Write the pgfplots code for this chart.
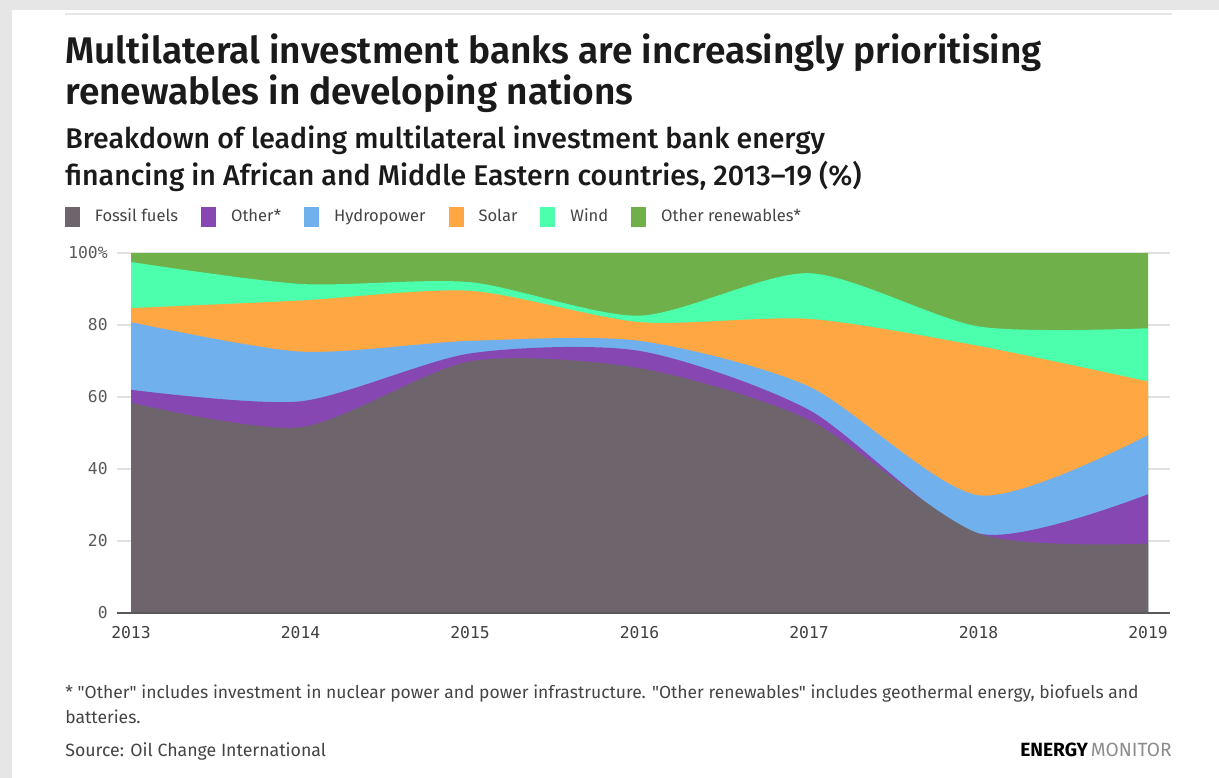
\documentclass[border=0pt]{standalone}
\usepackage{fontspec}
\usepackage{pgfplots}
\usepackage{pgfplotstable}
\pgfplotsset{compat=1.18}
\setmainfont{Fira Sans}
\newfontfamily\titlefont{Fira Sans SemiBold}
\newfontfamily\subfont{Fira Sans Medium}
\newfontfamily\notefont{Fira Sans}[Ligatures=TeXOff]
\newfontfamily\monofont{DejaVu Sans Mono}

\definecolor{fossil}{RGB}{110,101,108}
\definecolor{otherc}{RGB}{134,71,179}
\definecolor{hydro}{RGB}{112,177,237}
\definecolor{solar}{RGB}{255,167,66}
\definecolor{wind}{RGB}{75,255,172}
\definecolor{otherren}{RGB}{112,176,74}
\definecolor{framegray}{RGB}{230,230,230}
\definecolor{txt}{RGB}{26,26,26}
\definecolor{txtgray}{RGB}{68,68,68}

% cumulative shares (top edge of each band), % of total
\pgfplotstableread{
year fossil other hydro solar wind total
2013 58.4 62.0 80.8 84.7 97.5 100
2014 51.6 58.8 72.6 86.8 91.4 100
2015 69.9 72.1 75.6 89.5 91.9 100
2016 68.0 72.8 75.6 80.8 82.6 100
2017 53.6 56.4 62.9 81.7 94.4 100
2018 22.1 22.1 32.7 74.2 79.6 100
2019 19.3 33.0 49.4 64.3 79.1 100
}\cumtable

\begin{document}
\begin{tikzpicture}
% canvas and frame
\fill[white] (0,0) rectangle (609.5bp,-389bp);
\fill[framegray] (0,0) rectangle (609.5bp,-5bp);
\fill[framegray] (0,0) rectangle (6bp,-389bp);
\draw[framegray, line width=1bp] (32.5bp,-7bp) -- (586bp,-7bp);

% titles
\node[anchor=base west, inner sep=0pt, text=txt, font=\titlefont\fontsize{18.6}{20}\selectfont] at (32.5bp,-31.7bp) {Multilateral investment banks are increasingly prioritising};
\node[anchor=base west, inner sep=0pt, text=txt, font=\titlefont\fontsize{18.6}{20}\selectfont] at (32.5bp,-52bp) {renewables in developing nations};
\node[anchor=base west, inner sep=0pt, text=txt, font=\subfont\fontsize{14.3}{15}\selectfont] at (32.5bp,-74.2bp) {Breakdown of leading multilateral investment bank energy};
\node[anchor=base west, inner sep=0pt, text=txt, font=\subfont\fontsize{14.3}{15}\selectfont] at (32.5bp,-92.8bp) {financing in African and Middle Eastern countries, 2013–19 (\%)};

\begin{axis}[
  at={(58.5bp,-306.5bp)}, anchor=south west,
  scale only axis, width=526.5bp, height=180bp,
  xmin=2012.9174, xmax=2019.1298, ymin=0, ymax=100,
  axis x line*=bottom, axis y line*=left,
  x axis line style={draw=none}, y axis line style={draw=none},
  major tick length=0pt,
  xtick={2013,2014,2015,2016,2017,2018,2019},
  xticklabels={2013,2014,2015,2016,2017,2018,2019},
  ytick={0,20,40,60,80,100},
  yticklabels={0,20,40,60,80,100\%},
  xticklabel style={font=\monofont\fontsize{8.2}{10}\selectfont, text=black!75, anchor=north, inner sep=0pt, yshift=-6.3bp},
  yticklabel style={font=\monofont\fontsize{8.2}{10}\selectfont, text=black!65, anchor=east, inner sep=0pt, xshift=-4.5bp},
  ymajorgrids, grid style={draw=black!12, line width=0.6bp},
  legend columns=6, reverse legend,
  legend image code/.code={\fill[#1] (0bp,-4.9bp) rectangle (7.5bp,4.9bp);},
  legend style={at={(axis description cs:-0.0494,1.1)}, anchor=west, draw=none, fill=none,
     inner sep=0pt, outer sep=0pt,
     font=\fontsize{8.3}{10}\selectfont, text=txtgray,
     /tikz/every odd column/.append style={column sep=5.5bp},
     /tikz/every even column/.append style={column sep=9.5bp}},
  legend cell align=left,
  clip=false,
]
\addplot[fill=otherren, draw=none, smooth, tension=0.45] table[x=year, y=total] {\cumtable} \closedcycle;
\addlegendentry{Other renewables*}
\addplot[fill=wind, draw=none, smooth, tension=0.45] table[x=year, y=wind] {\cumtable} \closedcycle;
\addlegendentry{Wind}
\addplot[fill=solar, draw=none, smooth, tension=0.45] table[x=year, y=solar] {\cumtable} \closedcycle;
\addlegendentry{Solar}
\addplot[fill=hydro, draw=none, smooth, tension=0.45] table[x=year, y=hydro] {\cumtable} \closedcycle;
\addlegendentry{Hydropower}
\addplot[fill=otherc, draw=none, smooth, tension=0.45] table[x=year, y=other] {\cumtable} \closedcycle;
\addlegendentry{Other*}
\addplot[fill=fossil, draw=none, smooth, tension=0.45] table[x=year, y=fossil] {\cumtable} \closedcycle;
\addlegendentry{Fossil fuels}
\draw[black!65, line width=1bp] (axis cs:2012.9174,0) -- (axis cs:2019.1298,0);
\end{axis}

% footnotes
\node[anchor=base west, inner sep=0pt, text=txtgray, font=\notefont\fontsize{8.78}{10}\selectfont] at (32.5bp,-349bp) {* "Other" includes investment in nuclear power and power infrastructure. "Other renewables" includes geothermal energy, biofuels and};
\node[anchor=base west, inner sep=0pt, text=txtgray, font=\notefont\fontsize{8.78}{10}\selectfont] at (32.5bp,-361.5bp) {batteries.};
\node[anchor=base west, inner sep=0pt, text=txtgray, font=\notefont\fontsize{8.9}{10}\selectfont] at (32.5bp,-378bp) {Source: Oil Change International};
\node[anchor=base east, inner sep=0pt, font=\fontsize{9.6}{10}\selectfont] at (586bp,-378bp) {\textcolor{black}{\bfseries ENERGY}\hspace{1.5bp}\textcolor{black!45}{MONITOR}};
\end{tikzpicture}
\end{document}
